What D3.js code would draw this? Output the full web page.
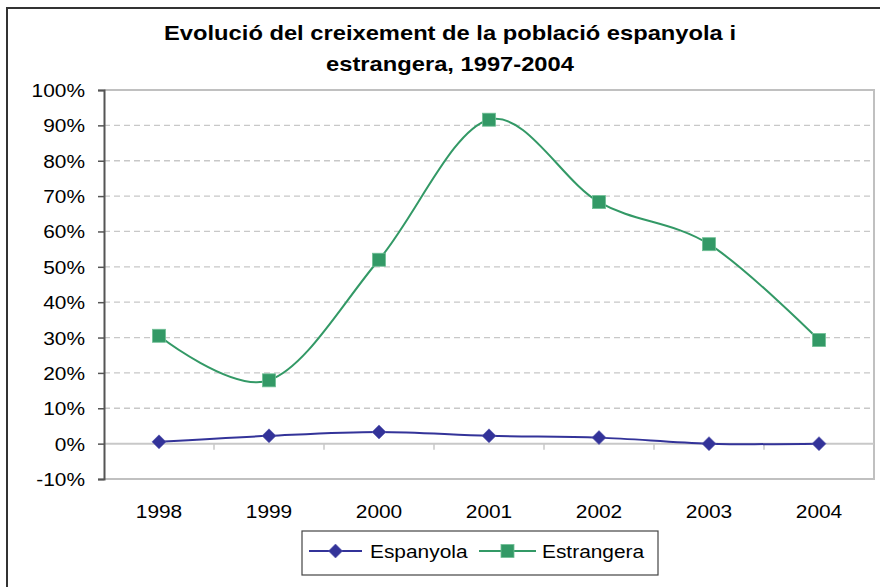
<!DOCTYPE html>
<html>
<head>
<meta charset="utf-8">
<script src="https://cdn.jsdelivr.net/npm/d3@7"></script>
<style>
  body { margin: 0; background: #fff; }
  text { font-family: "Liberation Sans", Arial, sans-serif; fill: #000; }
</style>
</head>
<body>
<div id="chart"></div>
<script>
// chart values (percent)
let years = ['1998', '1999', '2000', '2001', '2002', '2003', '2004'];
let espanyola = [0.5, 2.2, 3.3, 2.2, 1.7, 0.0, 0.0];
let estrangera = [30.5, 17.9, 52.0, 91.6, 68.3, 56.4, 29.3];
let yTicks = [-10, 0, 10, 20, 30, 40, 50, 60, 70, 80, 90, 100];
let titleLines = ['Evolució del creixement de la població espanyola i', 'estrangera, 1997-2004'];
let seriesNames = ['Espanyola', 'Estrangera'];

let width = 880;
let height = 587;
// the original picture is a bit stretched sideways
let stretch = 1.13;

let plot = { left: 104, right: 874, top: 90, bottom: 479 };

let svg = d3.select('#chart')
    .append('svg')
    .attr('width', width)
    .attr('height', height);

// outer chart border (right and bottom fall outside the picture)
svg.append('rect')
    .attr('x', 7)
    .attr('y', 8)
    .attr('width', 900)
    .attr('height', 600)
    .style('fill', '#fff')
    .style('stroke', '#333')
    .style('stroke-width', 2);

function stretchedText(parent, str, x, y, size, anchor, weight) {
    return parent.append('text')
        .text(str)
        .attr('transform', `translate(${x},${y}) scale(${stretch},1)`)
        .attr('text-anchor', anchor)
        .style('font-size', size + 'px')
        .style('font-weight', weight || 'normal');
}

// title
stretchedText(svg, titleLines[0], 450, 40, 21, 'middle', 'bold');
stretchedText(svg, titleLines[1], 450, 71, 21, 'middle', 'bold');

let x = d3.scaleBand()
    .domain(years)
    .range([plot.left, plot.right]);

let y = d3.scaleLinear()
    .domain([-10, 100])
    .range([plot.bottom, plot.top]);

let cx = d => x(d) + x.bandwidth() / 2;

// dashed gridlines
svg.append('g')
    .selectAll('line')
    .data(yTicks.filter(d => d !== 0 && d !== -10 && d !== 100))
    .enter()
    .append('line')
    .attr('x1', plot.left)
    .attr('x2', plot.right)
    .attr('y1', d => y(d))
    .attr('y2', d => y(d))
    .style('stroke', '#c8c8c8')
    .style('stroke-width', 1.3)
    .style('stroke-dasharray', '6,4');

// plot area border (grey) on top, right, bottom
svg.append('path')
    .attr('d', `M${plot.left},${plot.top}H${plot.right}V${plot.bottom}H${plot.left}`)
    .style('fill', 'none')
    .style('stroke', '#c0c0c0')
    .style('stroke-width', 2);

// zero line with category ticks
svg.append('line')
    .attr('x1', plot.left)
    .attr('x2', plot.right)
    .attr('y1', y(0))
    .attr('y2', y(0))
    .style('stroke', '#c8c8c8')
    .style('stroke-width', 2);

svg.append('g')
    .selectAll('line')
    .data(years.slice(1))
    .enter()
    .append('line')
    .attr('x1', d => x(d))
    .attr('x2', d => x(d))
    .attr('y1', y(0))
    .attr('y2', y(0) + 6)
    .style('stroke', '#c8c8c8')
    .style('stroke-width', 1.5);

// y axis
let yAxis = svg.append('g')
    .attr('transform', `translate(${plot.left},0)`)
    .call(d3.axisLeft(y)
        .tickValues(yTicks)
        .tickSize(6)
        .tickPadding(18)
        .tickFormat(d => d + '%'));

yAxis.select('.domain')
    .style('stroke', '#555')
    .style('stroke-width', 2);
yAxis.selectAll('.tick line')
    .style('stroke', '#555')
    .style('stroke-width', 1.5);
yAxis.selectAll('.tick text')
    .attr('x', null)
    .attr('dy', null)
    .attr('transform', `translate(-19,6.5) scale(${stretch},1)`)
    .style('font-size', '18.5px')
    .style('font-family', '"Liberation Sans", Arial, sans-serif')
    .style('fill', '#000');

// category labels
svg.append('g')
    .selectAll('text')
    .data(years)
    .enter()
    .append('text')
    .text(d => d)
    .attr('transform', d => `translate(${cx(d)},518) scale(${stretch},1)`)
    .attr('text-anchor', 'middle')
    .style('font-size', '18.5px');

// Excel smoothed lines
let line = d3.line()
    .x((d, i) => cx(years[i]))
    .y(d => y(d))
    .curve(d3.curveCardinal.tension(0));

let colors = ['#333399', '#339966'];
let allSeries = [espanyola, estrangera];

allSeries.forEach((vals, s) => {
    svg.append('path')
        .datum(vals)
        .attr('d', line)
        .style('fill', 'none')
        .style('stroke', colors[s])
        .style('stroke-width', 2);
});

let diamond = d3.symbol().type(d3.symbolDiamond2).size(100);

function drawMarker(g, s, px, py) {
    if (s === 0) {
        g.append('path')
            .attr('d', 'M0,-7L7,0L0,7L-7,0Z')
            .attr('transform', `translate(${px},${py})`)
            .style('fill', colors[0])
            .style('stroke', '#5a5ab0')
            .style('stroke-width', 0.6);
    } else {
        g.append('rect')
            .attr('x', px - 6.5)
            .attr('y', py - 6.5)
            .attr('width', 13)
            .attr('height', 13)
            .style('fill', colors[1])
            .style('stroke', '#6fbf95')
            .style('stroke-width', 0.8);
    }
}

let markers = svg.append('g');
allSeries.forEach((vals, s) => {
    vals.forEach((v, i) => drawMarker(markers, s, cx(years[i]), y(v)));
});

// legend
let legend = svg.append('g');
legend.append('rect')
    .attr('x', 302)
    .attr('y', 531)
    .attr('width', 356)
    .attr('height', 44)
    .style('fill', '#fff')
    .style('stroke', '#444')
    .style('stroke-width', 1.2);

let legendX = [{ x1: 309, x2: 362, tx: 370 }, { x1: 479, x2: 536, tx: 542 }];
seriesNames.forEach((name, s) => {
    let p = legendX[s];
    legend.append('line')
        .attr('x1', p.x1)
        .attr('x2', p.x2)
        .attr('y1', 551)
        .attr('y2', 551)
        .style('stroke', colors[s])
        .style('stroke-width', 2);
    drawMarker(legend, s, (p.x1 + p.x2) / 2, 551);
    stretchedText(legend, name, p.tx, 558, 18.5, 'start');
});
</script>
</body>
</html>
